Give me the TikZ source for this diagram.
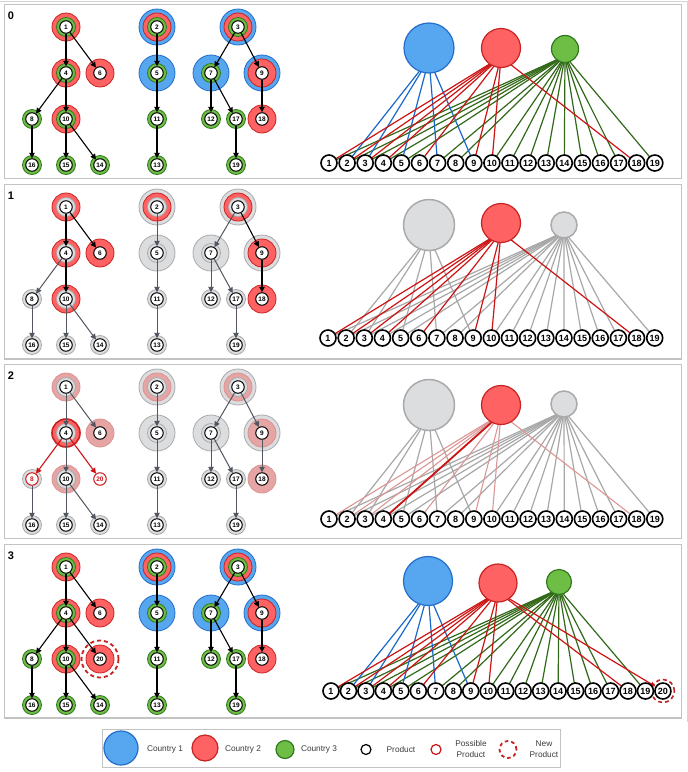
\documentclass[tikz,border=0pt]{standalone}
\usepackage{fontspec}
\setmainfont{Liberation Sans}
\usetikzlibrary{arrows.meta}
\pgfdeclarelayer{bg}
\pgfsetlayers{bg,main}
\definecolor{bfill}{RGB}{86,166,240}
\definecolor{bdraw}{RGB}{35,110,200}
\definecolor{rfill}{RGB}{255,98,98}
\definecolor{rdraw}{RGB}{200,35,35}
\definecolor{gfill}{RGB}{110,190,70}
\definecolor{gdraw}{RGB}{50,120,30}
\definecolor{blin}{RGB}{25,105,205}
\definecolor{rlin}{RGB}{205,20,20}
\definecolor{glin}{RGB}{50,105,25}
\definecolor{gyfill}{RGB}{220,221,223}
\definecolor{gydraw}{RGB}{170,170,172}
\definecolor{gylin}{RGB}{168,168,168}
\definecolor{pkfill}{RGB}{230,165,165}
\definecolor{pkdraw}{RGB}{220,145,145}
\definecolor{pklin}{RGB}{220,150,150}
\definecolor{edgegray}{RGB}{82,86,96}
\definecolor{framegray}{RGB}{195,195,195}
\definecolor{legtext}{RGB}{60,60,60}
\tikzset{
  prod/.style={circle, draw=black, line width=1pt, fill=white, minimum size=12.5pt, inner sep=0pt, font=\bfseries\fontsize{6.5}{6.5}\selectfont},
  poss/.style={prod, draw=rlin, text=rlin},
  bprod/.style={circle, draw=black, line width=1.6pt, fill=white, minimum size=16pt, inner sep=0pt, font=\bfseries\fontsize{9}{9}\selectfont},
  rBlue/.style={fill=bfill, draw=bdraw, line width=0.8pt},
  rRed/.style={fill=rfill, draw=rdraw, line width=0.8pt},
  rGreen/.style={fill=gfill, draw=gdraw, line width=0.8pt},
  rGray/.style={fill=gyfill, draw=gydraw, line width=0.8pt},
  rPink/.style={fill=pkfill, draw=pkdraw, line width=0.8pt},
  rHi/.style={fill=rfill, draw=rdraw, line width=1.6pt},
  tiparrow/.style={-{Triangle[length=5.5pt,width=5.5pt]}},
  ek/.style={tiparrow, draw=black, line width=1.1pt},
  eg/.style={tiparrow, draw=edgegray, line width=1pt},
  er/.style={tiparrow, draw=rlin, line width=1.1pt},
  e0k/.style={ek}, e0g/.style={ek}, e0x/.style={ek},
  e1k/.style={ek}, e1g/.style={eg}, e1x/.style={eg},
  e2k/.style={eg}, e2g/.style={eg}, e2x/.style={er},
  e3k/.style={ek}, e3g/.style={ek}, e3x/.style={ek},
  cty/.style={circle, inner sep=0pt, line width=1.2pt},
  cBlue/.style={cty, fill=bfill, draw=bdraw},
  cRed/.style={cty, fill=rfill, draw=rdraw},
  cGreen/.style={cty, fill=gfill, draw=gdraw},
  cGray/.style={cty, fill=gyfill, draw=gydraw, line width=1.5pt},
  lBlue/.style={draw=blin, line width=1.2pt},
  lRed/.style={draw=rlin, line width=1.2pt},
  lGreen/.style={draw=glin, line width=1.2pt},
  lGray/.style={draw=gylin, line width=1.2pt},
  lPink/.style={draw=pklin, line width=1.1pt},
  ndash/.style={draw=rdraw, line width=1.8pt, dash pattern=on 4pt off 3pt},
  frame/.style={draw=framegray, line width=1.3pt},
  lab/.style={inner sep=0pt, font=\bfseries\fontsize{11}{11}\selectfont},
  lt/.style={inner sep=0pt, text=legtext, font=\fontsize{8.3}{10.5}\selectfont},
}
\newcommand\treepanel[4]{%
  \foreach \nn/\xq/\rw/\hb/\hr/\hg in {1/66/0/0/1/1,4/66/1/0/1/1,6/100/1/0/1/0,8/32/2/0/0/1,10/66/2/0/1/1,16/32/3/0/0/1,15/66/3/0/0/1,14/100/3/0/0/1,2/157/0/1/1/1,5/157/1/1/0/1,11/157/2/0/0/1,13/157/3/0/0/1,3/238/0/1/1/1,7/211/1/1/0/1,9/262/1/1/1/0,12/211/2/0/0/1,17/236/2/0/0/1,18/262/2/0/1/0,19/236/3/0/0/1}{%
    \pgfmathsetmacro\yy{27+180*#1+46*\rw}%
    \def\rs{#3}\def\ps{prod}%
    \ifnum#1=2 \ifnum\nn=4 \def\rs{rHi}\fi\ifnum\nn=8 \def\ps{poss}\fi\fi
    \ifnum\hb=1 \filldraw[#2] (\xq,\yy) circle (18pt);\fi
    \ifnum\hr=1 \filldraw[\rs] (\xq,\yy) circle (14pt);\fi
    \ifnum\hg=1 \filldraw[#4] (\xq,\yy) circle (9.5pt);\fi
    \node[\ps] (t#1n\nn) at (\xq,\yy) {\nn};
  }%
}
\newcommand\treeedges[1]{%
  \foreach \ea/\eb/\es in {1/4/k,1/6/k,4/8/x,4/10/k,8/16/g,10/15/g,10/14/g,2/5/g,5/11/g,11/13/g,3/7/g,3/9/k,7/12/g,7/17/g,17/19/g,9/18/k}{%
    \draw[e#1\es] (t#1n\ea) -- (t#1n\eb);
  }%
}
\newcommand\bipprods[5]{%
  \foreach \i in {1,...,#5}{%
    \pgfmathsetmacro\xx{#3+#4*(\i-1)}%
    \node[bprod] (p#1n\i) at (\xx,#2) {\i};
  }%
}
\newcommand\biplinks[4]{%
  \begin{pgfonlayer}{bg}
  \foreach \i in {1,2,3,4,5,7,8,10,11,12,13,14,15,16,17,19} \draw[#4] ([yshift=-7pt]c#1c.center) -- (p#1n\i.center);
  \foreach \i in {2,3,5,7,9} \draw[#2] ([yshift=-11pt]c#1a.center) -- (p#1n\i.center);
  \foreach \i in {1,2,3,4,6,9,10,18} \draw[#3] ([yshift=-9pt]c#1b.center) -- (p#1n\i.center);
  \end{pgfonlayer}%
}
\begin{document}
\begin{tikzpicture}[x=1pt,y=-1pt]
\useasboundingbox (0,0) rectangle (688,772);
\begin{pgfonlayer}{bg}
\fill[white] (0,0) rectangle (688,772);
\end{pgfonlayer}
\draw[framegray!70, line width=1pt] (0,1) -- (687,1) -- (687,722);
% panel frames
\draw[frame] (4.5,4.5) rectangle (681.5,178.5);
\draw[frame] (4.5,184.5) rectangle (681.5,359);
\draw[frame] (4.5,364.5) rectangle (681.5,538.5);
\draw[frame] (4.5,544.5) rectangle (681.5,718);
% ---------- panel 0
\node[lab] (lab0) at (11,16) {0};
\treepanel{0}{rBlue}{rRed}{rGreen}
\treeedges{0}
\node[cBlue, minimum size=50pt] (c0a) at (429,48) {};
\node[cRed, minimum size=39pt] (c0b) at (501,48) {};
\node[cGreen, minimum size=27pt] (c0c) at (565,49) {};
\bipprods{0}{163}{329}{18.1}{19}
\biplinks{0}{lBlue}{lRed}{lGreen}
% ---------- panel 1
\node[lab] (lab1) at (11,196) {1};
\treepanel{1}{rGray}{rRed}{rGray}
\treeedges{1}
\node[cGray, minimum size=51pt] (c1a) at (429,225) {};
\node[cRed, minimum size=39pt] (c1b) at (501,223) {};
\node[cGray, minimum size=26pt] (c1c) at (564,225) {};
\bipprods{1}{338}{328}{18.15}{19}
\biplinks{1}{lGray}{lRed}{lGray}
% ---------- panel 2
\node[lab] (lab2) at (11,376) {2};
\treepanel{2}{rGray}{rPink}{rGray}
\node[poss] (t2n20) at (100,479) {20};
\treeedges{2}
\draw[er] (t2n4) -- (t2n20);
\node[cGray, minimum size=51pt] (c2a) at (429,405) {};
\node[cRed, minimum size=39pt] (c2b) at (501,405) {};
\node[cGray, minimum size=26pt] (c2c) at (564,404) {};
\bipprods{2}{519}{329}{18.1}{19}
\biplinks{2}{lGray}{lPink}{lGray}
\begin{pgfonlayer}{bg}
\draw[lRed, line width=1.8pt] ([yshift=-9pt]c2b.center) -- (p2n4.center);
\end{pgfonlayer}
% ---------- panel 3
\node[lab] (lab3) at (11,556) {3};
\treepanel{3}{rBlue}{rRed}{rGreen}
\filldraw[rRed] (100,659) circle (14pt);
\node[prod] (t3n20) at (100,659) {20};
\draw[ndash] (100,659) circle (18.5pt);
\treeedges{3}
\draw[ek] (t3n4) -- (t3n20);
\node[cBlue, minimum size=49pt] (c3a) at (428,581) {};
\node[cRed, minimum size=38pt] (c3b) at (498,583) {};
\node[cGreen, minimum size=25pt] (c3c) at (559,582) {};
\bipprods{3}{691}{331}{17.47}{20}
\biplinks{3}{lBlue}{lRed}{lGreen}
\begin{pgfonlayer}{bg}
\draw[ndash, line width=1.6pt] (p3n20.center) circle (11.5pt);
\draw[lRed, -{Triangle[length=5pt,width=4.5pt]}] ([yshift=-9pt]c3b.center) -- (p3n20);
\end{pgfonlayer}
% ---------- legend
\draw[framegray, line width=1pt] (102,729) rectangle (560,767);
\node[cBlue, minimum size=34pt] (lg1) at (121,748) {};
\node[lt] (lg1t) at (165,749.5) {Country 1};
\node[cRed, minimum size=26pt] (lg2) at (205,748) {};
\node[lt] (lg2t) at (243,749.5) {Country 2};
\node[cGreen, minimum size=18pt] (lg3) at (285,749.5) {};
\node[lt] (lg3t) at (319,749.5) {Country 3};
\node[circle, draw=black, line width=1.2pt, minimum size=10pt, inner sep=0pt] (lg4) at (366,749.5) {};
\node[lt] (lg4t) at (401,749.5) {Product};
\node[circle, draw=rlin, line width=1.2pt, minimum size=10pt, inner sep=0pt] (lg5) at (436,749.5) {};
\node[lt, align=center] (lg5t) at (471,749) {Possible\\Product};
\node[circle, ndash, line width=1.8pt, dash pattern=on 3.5pt off 3pt, minimum size=17pt, inner sep=0pt] (lg6) at (508,749.5) {};
\node[lt, align=center] (lg6t) at (544,749) {New\\Product};
\end{tikzpicture}
\end{document}
